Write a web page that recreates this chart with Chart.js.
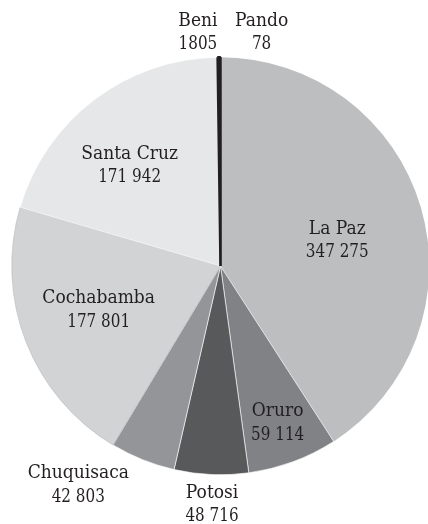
<!DOCTYPE html>
<html>
<head>
<meta charset="utf-8">
<script src="https://cdn.jsdelivr.net/npm/chart.js@4/dist/chart.umd.min.js"></script>
<style>
  html, body { margin: 0; padding: 0; background: #fff; overflow: hidden; }
  #wrap { position: relative; width: 441px; height: 524px; }
</style>
</head>
<body>
<div id="wrap"><canvas id="chart"></canvas></div>
<script>
// departments, clockwise from the top
var regions = ["La Paz", "Oruro", "Potosi", "Chuquisaca", "Cochabamba", "Santa Cruz", "Beni", "Pando"];
var population = [347275, 59114, 48716, 42803, 177801, 171942, 1805, 78];

var sliceColors = ["#bcbec0", "#808285", "#58595b", "#939598", "#d1d3d4", "#e6e7e8", "#231f20", "#231f20"];
var sliceBorders = ["#ffffff", "#ffffff", "#ffffff", "#ffffff", "#b8b9bb", "#ffffff", "#231f20", "#231f20"];
var sliceBorderWidth = [0, 0.6, 0.6, 0.6, 0.6, 0.6, 2.5, 1.5];

// where each label sits: fraction of the radius, and turn from the slice middle (deg)
var labelRadius = [0.573, 0.80, 1.143, 1.25, 0.62, 0.649, 1.124, 1.136];
var labelTurn = [3.9, 0.3, -0.5, 11.1, 1.6, -4.9, -5.1, 10];

var labelFont = '19px "DejaVu Serif"';

function fmt(n) {
  var s = String(n);
  if (n < 10000) return s;
  return s.replace(/\B(?=(\d{3})+(?!\d))/g, " ");
}

// DejaVu Serif is wider than the book face, so squeeze it a bit
function squeezed(ctx, text, x, y, sx) {
  ctx.save();
  ctx.translate(x, y);
  ctx.scale(sx, 1);
  ctx.fillText(text, 0, 0);
  ctx.restore();
}

var sliceLabels = {
  id: "sliceLabels",
  afterDatasetsDraw: function(chart) {
    var ctx = chart.ctx;
    var meta = chart.getDatasetMeta(0);
    ctx.save();
    ctx.font = labelFont;
    ctx.fillStyle = "#231f20";
    ctx.textAlign = "center";
    ctx.textBaseline = "middle";
    meta.data.forEach(function(arc, i) {
      var mid = (arc.startAngle + arc.endAngle) / 2 + labelTurn[i] * Math.PI / 180;
      var r = arc.outerRadius * labelRadius[i];
      var x = arc.x + Math.cos(mid) * r;
      var y = arc.y + Math.sin(mid) * r;
      squeezed(ctx, regions[i], x, y - 11.5, 0.9);
      squeezed(ctx, fmt(population[i]), x, y + 12, 0.8);
    });
    ctx.restore();
  }
};

new Chart(document.getElementById("chart"), {
  type: "pie",
  data: {
    labels: regions,
    datasets: [{
      data: population,
      backgroundColor: sliceColors,
      borderColor: sliceBorders,
      borderWidth: sliceBorderWidth
    }]
  },
  options: {
    responsive: true,
    maintainAspectRatio: false,
    animation: false,
    layout: { padding: { left: 10.5, right: 10.5, top: 56, bottom: 48 } },
    plugins: {
      legend: { display: false },
      tooltip: { enabled: false }
    }
  },
  plugins: [sliceLabels]
});
</script>
</body>
</html>
